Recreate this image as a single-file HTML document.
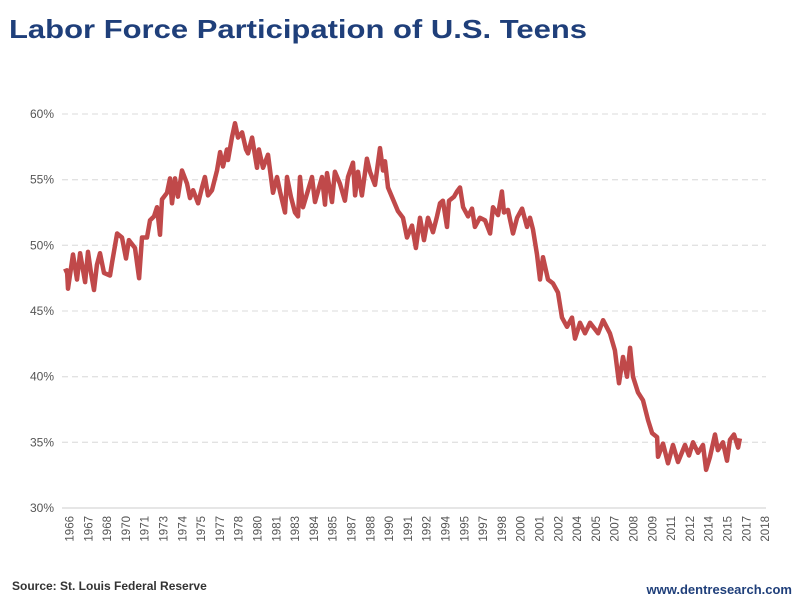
<!DOCTYPE html>
<html><head><meta charset="utf-8"><style>
body{margin:0;background:#fff;width:800px;height:601px;overflow:hidden;font-family:"Liberation Sans",Arial,sans-serif}
</style></head><body>
<svg width="800" height="601">
<text x="9" y="38" font-family="Liberation Sans" font-weight="bold" font-size="26" fill="#1f3f7a" textLength="578" lengthAdjust="spacingAndGlyphs">Labor Force Participation of U.S. Teens</text>
<g id="grid"></g>
<g id="yl"></g>
<g id="xl"></g>
<path id="line" fill="none" stroke="#c0494a" stroke-width="4.5" stroke-linejoin="round"/>
<text x="12" y="590" font-weight="bold" font-size="12" fill="#333">Source: St. Louis Federal Reserve</text>
<text x="792" y="594" text-anchor="end" font-weight="bold" font-size="13" fill="#1f3f7a">www.dentresearch.com</text>
</svg>
<script>
const yTicks=[30,35,40,45,50,55,60];
const xLabels=[1966,1967,1968,1970,1971,1973,1974,1975,1977,1978,1980,1981,1983,1984,1985,1987,1988,1990,1991,1992,1994,1995,1997,1998,2000,2001,2002,2004,2005,2007,2008,2009,2011,2012,2014,2015,2017,2018];
const years=[1966.0,1966.22,1966.30,1966.67,1966.96,1967.19,1967.56,1967.78,1968.00,1968.22,1968.44,1968.67,1968.96,1969.41,1969.56,1969.93,1970.30,1970.59,1970.81,1971.26,1971.56,1971.78,1972.15,1972.37,1972.67,1972.89,1973.11,1973.26,1973.63,1973.85,1974.00,1974.22,1974.44,1974.74,1975.11,1975.33,1975.56,1975.93,1976.22,1976.44,1976.67,1976.96,1977.33,1977.56,1977.78,1978.07,1978.15,1978.44,1978.67,1978.89,1979.19,1979.48,1979.63,1979.93,1980.30,1980.44,1980.74,1981.11,1981.48,1981.78,1982.00,1982.37,1982.52,1982.81,1983.11,1983.33,1983.48,
1983.70,1984.37,1984.59,1985.11,1985.33,1985.48,1985.85,1986.07,1986.44,1986.81,1987.04,1987.41,1987.56,1987.78,1988.07,1988.44,1988.67,1989.04,1989.41,1989.63,1989.78,1990.00,1990.37,1990.74,1991.11,1991.41,1991.78,1992.07,1992.37,1992.67,1992.96,1993.33,1993.63,1993.85,1994.07,1994.37,1994.52,1994.89,1995.11,1995.33,1995.56,1995.93,1996.22,1996.44,1996.81,1997.19,1997.56,1997.78,1998.15,1998.44,1998.59,1998.89,1999.26,1999.56,1999.93,2000.30,2000.52,2000.74,2001.04,2001.26,2001.48,2001.85,
2002.22,2002.59,2002.89,2003.26,2003.63,2003.85,2004.22,2004.59,2004.96,2005.56,2005.93,2006.44,2006.81,2007.11,2007.41,2007.70,2007.93,2008.15,2008.52,2008.89,2009.26,2009.56,2009.93,2010.00,2010.37,2010.74,2011.11,2011.48,2012.00,2012.30,2012.59,2012.96,2013.33,2013.56,2013.85,2014.22,2014.44,2014.81,2015.11,2015.33,2015.63,2015.93,2016.07];
const rates=[48.0,48.1,46.7,49.3,47.4,49.4,47.2,49.5,47.9,46.6,48.5,49.4,47.9,47.7,48.7,50.9,50.6,49.0,50.4,49.8,47.5,50.6,50.6,51.9,52.2,52.9,50.8,53.5,54.0,55.1,53.2,55.1,53.7,55.7,54.7,53.6,54.2,53.2,54.4,55.2,53.8,54.2,55.7,57.1,56.0,57.3,56.5,58.2,59.3,58.2,58.6,57.3,57.0,58.2,55.9,57.3,55.9,56.9,54.0,55.2,54.1,52.5,55.2,53.7,52.5,52.2,55.2,
52.9,55.2,53.3,55.2,53.1,55.5,53.3,55.6,54.7,53.4,55.2,56.3,53.8,55.6,53.8,56.6,55.6,54.6,57.4,55.7,56.4,54.4,53.5,52.6,52.1,50.6,51.5,49.8,52.1,50.4,52.1,51.0,52.2,53.2,53.4,51.4,53.4,53.7,54.1,54.4,52.9,52.2,52.8,51.4,52.1,51.9,50.9,52.9,52.3,54.1,52.5,52.7,50.9,52.1,52.8,51.4,52.1,51.2,49.3,47.4,49.1,47.4,
47.1,46.4,44.5,43.8,44.5,42.9,44.1,43.3,44.1,43.3,44.3,43.3,42.0,39.5,41.5,40.0,42.2,40.0,38.8,38.2,36.7,35.7,35.4,33.9,34.9,33.4,34.8,33.5,34.8,34.0,35.0,34.2,34.8,32.9,33.9,35.6,34.4,35.0,33.6,35.2,35.6,34.6,35.3];
const NS='http://www.w3.org/2000/svg';
function yS(v){return 508-(v-30)*(394/30);}
function xS(yr){return 64+(yr-1966)*13.5;}
const grid=document.getElementById('grid'),yl=document.getElementById('yl'),xl=document.getElementById('xl');
yTicks.forEach(t=>{
  const l=document.createElementNS(NS,'line');
  l.setAttribute('x1',62);l.setAttribute('x2',766);l.setAttribute('y1',yS(t));l.setAttribute('y2',yS(t));
  l.setAttribute('stroke',t===30?'#d8d8d8':'#e2e2e2');l.setAttribute('stroke-width',1.3);
  if(t!==30)l.setAttribute('stroke-dasharray','6,4');
  
  
  grid.appendChild(l);
  const tx=document.createElementNS(NS,'text');
  tx.setAttribute('x',54);tx.setAttribute('y',yS(t)+4);tx.setAttribute('text-anchor','end');
  tx.setAttribute('font-size','12');tx.setAttribute('fill','#555');
  tx.textContent=t+'%';
  
  
  yl.appendChild(tx);
});
xLabels.forEach((lab,i)=>{
  const x=69.5+i*18.8;
  const tx=document.createElementNS(NS,'text');
  tx.setAttribute('transform','translate('+(x+4)+',516) rotate(-90)');
  tx.setAttribute('text-anchor','end');
  tx.setAttribute('font-size','11.5');tx.setAttribute('fill','#555');
  tx.textContent=lab;
  
  
  xl.appendChild(tx);
});
let d='';
years.forEach((y,i)=>{d+=(i?'L':'M')+xS(y).toFixed(1)+','+yS(rates[i]).toFixed(1);});
document.getElementById('line').setAttribute('d',d);
</script>
</body></html>
